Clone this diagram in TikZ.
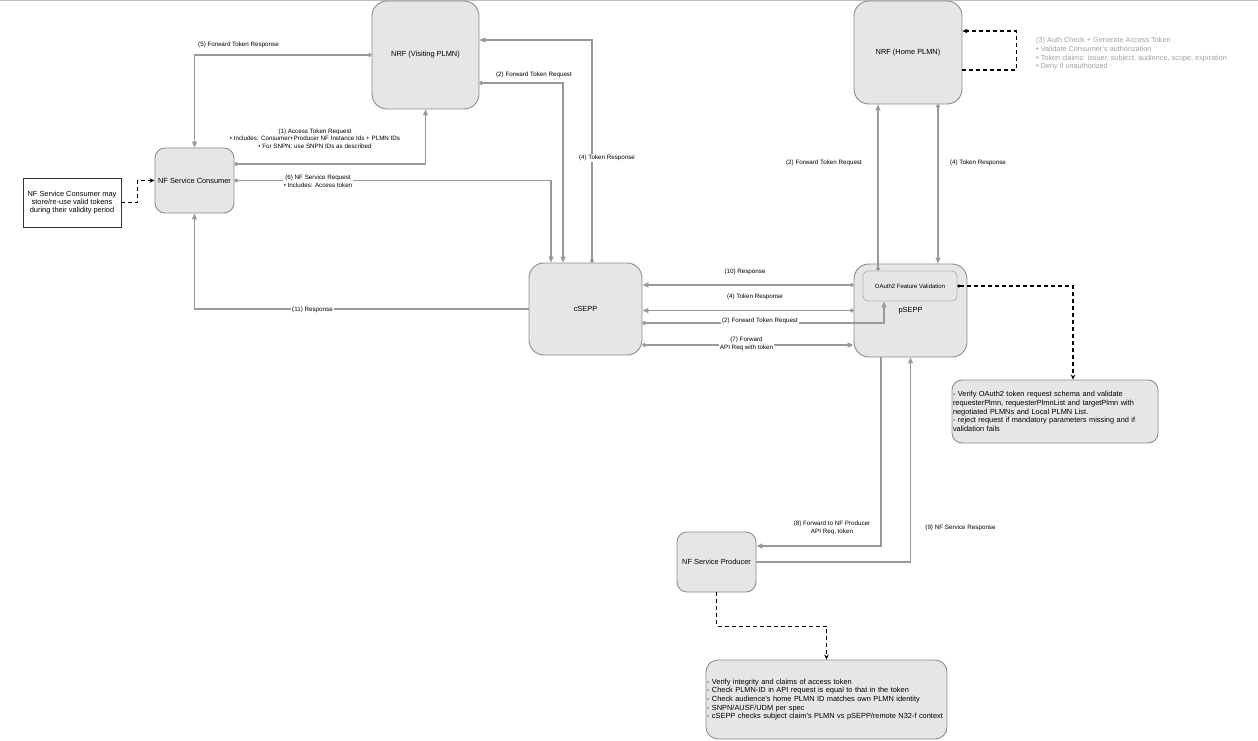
\documentclass[tikz,border=0pt]{standalone}
\usepackage{fontspec}
\setmainfont{Liberation Sans}
\usetikzlibrary{calc}
\usetikzlibrary{arrows.meta,shapes}

\definecolor{boxfill}{HTML}{E6E6E6}
\definecolor{boxline}{HTML}{8C8C8C}
\definecolor{wire}{HTML}{999999}
\definecolor{notegray}{HTML}{A0A0A0}

\tikzset{
	nfbox/.style={draw=boxline, fill=boxfill, line width=0.9pt, rounded corners=#1, inner sep=0pt, align=center, font=\fontsize{7.4}{8.7}\selectfont},
	nfbox/.default=12pt,
	wirearrow/.style={draw=wire, line width=1.2pt, -{Triangle[length=6pt,width=5pt]}},
	dotwire/.style={draw=wire, line width=1.2pt, {Circle[length=4pt]}-{Triangle[length=6pt,width=5pt]}},
	tokendash/.style={draw=black, line width=1.1pt, dash pattern=on 4pt off 3pt, -{Stealth[length=5pt,width=4.5pt]}},
	lbl/.style={font=\fontsize{6.25}{7.5}\selectfont, inner sep=1pt, align=center},
	lblw/.style={lbl, fill=white}
}

\begin{document}
\begin{tikzpicture}[x=1pt,y=-1pt]
	\useasboundingbox (0,0) rectangle (1258,741);
	\draw [gray!50, line width=1pt] (0,0.5) -- (1258,0.5);

	\node [nfbox=15pt, minimum width=107pt, minimum height=108pt] (nrfv) at (425.5,55) {NRF (Visiting PLMN)};
	\node [nfbox=15pt, minimum width=108pt, minimum height=103pt] (nrfh) at (908,52.5) {NRF (Home PLMN)};
	\node [nfbox=10pt, minimum width=79pt, minimum height=65pt] (cons) at (194.5,180.5) {NF Service Consumer};
	\node [draw=black!80, line width=0.6pt, fill=white, minimum width=98pt, minimum height=49pt, inner sep=0pt, align=center, font=\fontsize{7.4}{8.4}\selectfont] (note) at (72,202.5) {NF Service Consumer may\\store/re-use valid tokens\\during their validity period};
	\node [nfbox=15pt, minimum width=113pt, minimum height=92pt] (csepp) at (585.5,309) {cSEPP};
	\node [nfbox=15pt, minimum width=113pt, minimum height=93pt] (psepp) at (910.5,310.5) {pSEPP};
	\node [nfbox=5pt, draw=gray!55, minimum width=94pt, minimum height=30pt, font=\fontsize{6}{7}\selectfont] (oauth) at (910,286) {OAuth2 Feature Validation};
	\node [nfbox=10pt, minimum width=206pt, minimum height=63pt, text width=204pt, align=left] (verify) at (1055,411.5) {- Verify OAuth2 token request schema and validate\\requesterPlmn, requesterPlmnList and targetPlmn with\\negotiated PLMNs and Local PLMN List.\\- reject request if mandatory parameters missing and if\\validation fails};
	\node [nfbox=10pt, minimum width=79pt, minimum height=60pt] (prod) at (716.5,562) {NF Service Producer};
	\node [nfbox=12pt, minimum width=241pt, minimum height=79pt, text width=239pt, align=left] (check) at (826.5,699.5) {- Verify integrity and claims of access token\\- Check PLMN-ID in API request is equal to that in the token\\- Check audience's home PLMN ID matches own PLMN identity\\- SNPN/AUSF/UDM per spec\\- cSEPP checks subject claim's PLMN vs pSEPP/remote N32-f context};
	\node [anchor=north west, inner sep=0pt, align=left, text=notegray, font=\fontsize{7.3}{8.7}\selectfont] (authnote) at (1036,37.3) {(3) Auth Check + Generate Access Token\\• Validate Consumer's authorization\\• Token claims: issuer, subject, audience, scope, expiration\\• Deny if unauthorized};

	% visiting side
	\draw [dotwire] (nrfv.west) -| (cons.north);
	\draw [dotwire] ([yshift=16.5pt]cons.east) -| (nrfv.south);
	\draw [dotwire] ([yshift=-28pt]nrfv.east) -| ([xshift=-22.5pt]csepp.north);
	\draw [dotwire] ([xshift=6.5pt]csepp.north) |- ([yshift=15pt]nrfv.east);
	\draw [dotwire] (cons.east) -| ([xshift=-34.5pt]csepp.north);
	\draw [wirearrow] (csepp.west) -| (cons.south);
	\draw [tokendash] (note.east) -- ++(16,0) |- (cons.west);

	% between SEPPs
	\draw [dotwire] ([yshift=25.5pt]psepp.west) -- ([yshift=25.5pt]psepp.west -| csepp.east);
	\draw [dotwire] (psepp.west) -- (psepp.west -| csepp.east);
	\draw [dotwire] ([yshift=-14pt]csepp.east) -| ([xshift=-26pt]oauth.south);
	\draw [dotwire] ([yshift=-36pt]csepp.east) -- ([yshift=-36pt]csepp.east -| psepp.west);

	% home side
	\draw [dotwire] ([xshift=-32pt]oauth.north) -- ([xshift=-32pt]oauth.north |- nrfh.south);
	\draw [dotwire] ([xshift=30pt]nrfh.south) -- ([xshift=30pt]nrfh.south |- psepp.north);
	\draw [tokendash] ([yshift=-17.5pt]nrfh.east) -- ++(54,0) |- ([yshift=21.5pt]nrfh.east);
	\draw [tokendash, {Circle[length=3pt]}-{Stealth[length=5pt,width=4.5pt]}] (oauth.east) -| ([xshift=18pt]verify.north);
	\draw [wirearrow] ([xshift=-29.5pt]psepp.south) |- ([yshift=16pt]prod.east);
	\draw [wirearrow] (prod.east) -| (psepp.south);
	\draw [tokendash] (prod.south) -- ++(0,34) -| (check.north);

	\node [lbl] (l5) at (238.5,44.5) {(5) Forward Token Response};
	\node [lbl] (l1) at (315,138.5) {(1) Access Token Request\\• Includes: Consumer+Producer NF Instance Ids + PLMN IDs\\• For SNPN: use SNPN IDs as described};
	\node [lbl] (l2a) at (534,75) {(2) Forward Token Request};
	\node [lblw] (l4a) at (607,158) {(4) Token Response};
	\node [lblw] (l6) at (318,181.5) {(6) NF Service Request\\• Includes: Access token};
	\node [lblw] (l11) at (312.5,309.5) {(11) Response};
	\node [lbl] (l10) at (745,272) {(10) Response};
	\node [lbl] (l4b) at (755,297) {(4) Token Response};
	\node [lblw] (l2b) at (760,321) {(2) Forward Token Request};
	\node [lblw] (l7) at (746.5,344) {(7) Forward\\API Req with token};
	\node [lbl] (l2c) at (824,163) {(2) Forward Token Request};
	\node [lbl] (l4c) at (978,163) {(4) Token Response};
	\node [lbl] (l8) at (832,528) {(8) Forward to NF Producer\\API Req, token};
	\node [lbl] (l9) at (960.5,528) {(9) NF Service Response};
\end{tikzpicture}
\end{document}
